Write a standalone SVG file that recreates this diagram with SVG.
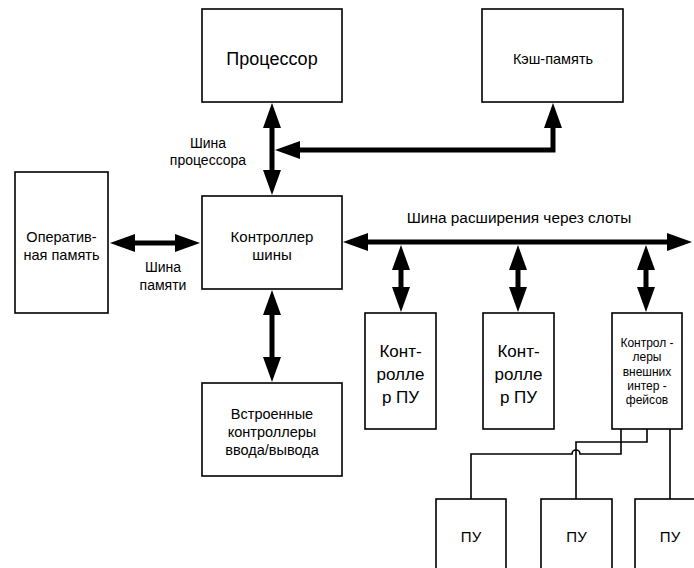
<svg xmlns="http://www.w3.org/2000/svg" width="694" height="568" viewBox="0 0 694 568">
  <style>
    .box { fill: #fff; stroke: #000; stroke-width: 1.6; }
    .t { font-family: "Liberation Sans", Arial, sans-serif; fill: #000; text-anchor: middle; }
    .bus { fill: none; stroke: #000; stroke-width: 5; stroke-linejoin: miter; marker-start: url(#ah); marker-end: url(#ah); }
    .wire { fill: none; stroke: #000; stroke-width: 1.6; }
  </style>
  <defs>
    <!-- arrowhead: tip 20px beyond the line end -->
    <marker id="ah" markerUnits="userSpaceOnUse" markerWidth="27" markerHeight="18" refX="5" refY="9" orient="auto-start-reverse" viewBox="0 0 27 18">
      <path d="M0,0 L25,9 L0,18 z" fill="#000"/>
    </marker>
  </defs>

  <rect width="694" height="568" fill="#fff"/>

  <!-- connectors -->
  <g id="connectors">
    <!-- processor bus -->
    <path class="bus" d="M272,123 V175"/>
    <!-- cache link to processor bus -->
    <path class="bus" d="M295,150 H553 V123"/>
    <!-- memory bus -->
    <path class="bus" d="M130,243 H180"/>
    <!-- expansion bus -->
    <path class="bus" d="M363,242 H672"/>
    <!-- slot taps -->
    <path class="bus" d="M401,265 V292"/>
    <path class="bus" d="M518,265 V292"/>
    <path class="bus" d="M646,265 V292"/>
    <!-- built-in I/O link -->
    <path class="bus" d="M272,310 V362"/>
    <!-- external interface wires -->
    <path class="wire" d="M621,429 V454 H580 A4,4 0 0 0 572,454 H471 V499"/>
    <path class="wire" d="M647,429 V442 H576 V499"/>
    <path class="wire" d="M670,429 V499"/>
  </g>

  <g id="cpu">
    <rect class="box" x="202" y="9" width="140" height="93"/>
    <text class="t" x="272" y="65" font-size="18">Процессор</text>
  </g>

  <g id="cache">
    <rect class="box" x="482" y="9" width="141" height="93"/>
    <text class="t" x="553" y="64" font-size="14.5">Кэш-память</text>
  </g>

  <g id="ram">
    <rect class="box" x="15" y="172" width="93" height="141"/>
    <text class="t" x="61.5" y="242" font-size="14.5">Оператив-</text>
    <text class="t" x="61.5" y="260" font-size="14.5">ная память</text>
  </g>

  <g id="bus-controller">
    <rect class="box" x="202" y="196" width="140" height="93"/>
    <text class="t" x="272" y="242" font-size="15">Контроллер</text>
    <text class="t" x="272" y="260" font-size="15">шины</text>
  </g>

  <g id="bus-labels">
    <text class="t" x="208" y="148" font-size="14">Шина</text>
    <text class="t" x="208" y="165" font-size="14">процессора</text>
    <text class="t" x="163" y="272" font-size="14">Шина</text>
    <text class="t" x="163" y="290" font-size="14">памяти</text>
    <text class="t" x="519" y="223" font-size="15.4">Шина расширения через слоты</text>
  </g>

  <g id="builtin-io">
    <rect class="box" x="202" y="383" width="140" height="93"/>
    <text class="t" x="272" y="419" font-size="14.5">Встроенные</text>
    <text class="t" x="272" y="437" font-size="14.5">контроллеры</text>
    <text class="t" x="272" y="455" font-size="14.5">ввода/вывода</text>
  </g>

  <g id="pu-controller-1">
    <rect class="box" x="365" y="313" width="71" height="116"/>
    <text class="t" x="400.5" y="357" font-size="17">Конт-</text>
    <text class="t" x="400.5" y="380" font-size="17">ролле</text>
    <text class="t" x="400.5" y="403" font-size="17">р ПУ</text>
  </g>

  <g id="pu-controller-2">
    <rect class="box" x="483" y="313" width="71" height="116"/>
    <text class="t" x="518.5" y="357" font-size="17">Конт-</text>
    <text class="t" x="518.5" y="380" font-size="17">ролле</text>
    <text class="t" x="518.5" y="403" font-size="17">р ПУ</text>
  </g>

  <g id="ext-interfaces">
    <rect class="box" x="612" y="313" width="70" height="116"/>
    <text class="t" x="647" y="347" font-size="12">Контрол -</text>
    <text class="t" x="647" y="361" font-size="12">леры</text>
    <text class="t" x="647" y="375.5" font-size="12">внешних</text>
    <text class="t" x="647" y="390" font-size="12">интер -</text>
    <text class="t" x="647" y="404" font-size="12">фейсов</text>
  </g>

  <g id="pu-1">
    <rect class="box" x="436" y="499" width="70" height="90"/>
    <text class="t" x="471" y="542" font-size="15">ПУ</text>
  </g>

  <g id="pu-2">
    <rect class="box" x="541" y="499" width="71" height="90"/>
    <text class="t" x="576.5" y="542" font-size="15">ПУ</text>
  </g>

  <g id="pu-3">
    <rect class="box" x="635" y="499" width="70" height="90"/>
    <text class="t" x="670" y="542" font-size="15">ПУ</text>
  </g>
</svg>
